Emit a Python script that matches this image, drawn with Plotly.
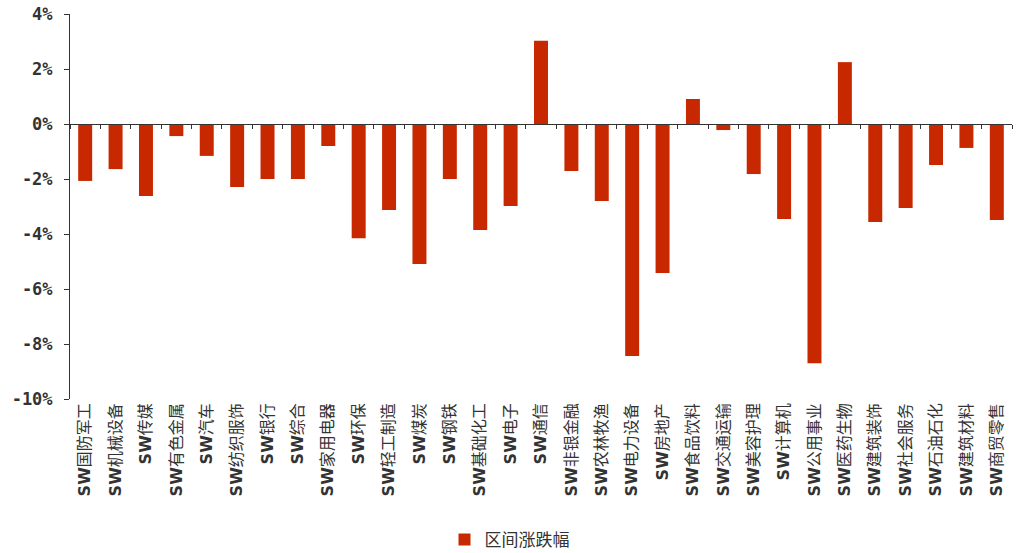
import plotly.graph_objects as go

categories = ["国防军工", "机械设备", "传媒", "有色金属", "汽车", "纺织服饰", "银行", "综合",
              "家用电器", "环保", "轻工制造", "煤炭", "钢铁", "基础化工", "电子", "通信",
              "非银金融", "农林牧渔", "电力设备", "房地产", "食品饮料", "交通运输", "美容护理",
              "计算机", "公用事业", "医药生物", "建筑装饰", "社会服务", "石油石化", "建筑材料", "商贸零售"]
values = [-2.07, -1.64, -2.62, -0.44, -1.16, -2.29, -2.0, -2.0,
          -0.80, -4.15, -3.13, -5.09, -2.0, -3.85, -2.98, 3.03,
          -1.71, -2.80, -8.44, -5.42, 0.91, -0.22, -1.82,
          -3.45, -8.70, 2.25, -3.56, -3.05, -1.49, -0.87, -3.49]
series_name = "区间涨跌幅"
y_ticks = [4, 2, 0, -2, -4, -6, -8, -10]
y_tick_labels = ["4%", "2%", "0%", "-2%", "-4%", "-6%", "-8%", "-10%"]

labels = ["SW" + c for c in categories]
ticktext = ["<b>SW</b>" + c for c in categories]

y_min, y_max = -10, 4
zero_pos = (0 - y_min) / (y_max - y_min)
x_range = [-0.5, len(labels) - 0.5]

fig = go.Figure()
fig.add_trace(go.Bar(
    x=labels, y=values, name=series_name,
    marker=dict(color="#C82800", line=dict(width=0)),
    width=0.46,
))
# invisible helper trace so the zero-line axis is rendered
fig.add_trace(go.Bar(x=labels, y=[0] * len(labels), xaxis="x2", width=0.46,
                     marker=dict(opacity=0), showlegend=False, hoverinfo="skip"))

fig.update_layout(
    width=1019, height=553,
    margin=dict(l=70, r=7, t=14, b=154),
    plot_bgcolor="white", paper_bgcolor="white",
    showlegend=True,
    legend=dict(orientation="h", x=0.5, xanchor="center", xref="container",
                y=1 - 540 / 553, yanchor="middle", yref="container",
                font=dict(family="Noto Sans CJK SC", size=17, color="#333333")),
    xaxis=dict(
        type="category", categoryorder="array", categoryarray=labels, range=x_range,
        tickmode="array", tickvals=labels, ticktext=ticktext, automargin=False,
        tickangle=-90, showline=False, ticks="", showgrid=False,
        tickfont=dict(family="DejaVu Sans, Noto Sans CJK SC", size=16, color="#333333"),
    ),
    xaxis2=dict(
        overlaying="x", anchor="free", position=zero_pos, side="bottom", range=x_range,
        showline=True, linecolor="#333333", linewidth=1, automargin=False,
        ticks="outside", ticklen=4, tickcolor="#333333", tickson="boundaries",
        showticklabels=False, showgrid=False,
        type="category", categoryarray=labels, categoryorder="array",
    ),
    yaxis=dict(
        range=[y_min, y_max], tickmode="array", tickvals=y_ticks, ticktext=y_tick_labels,
        showline=True, linecolor="#333333", linewidth=1, automargin=False,
        ticks="outside", ticklen=5, tickcolor="#333333", ticklabelstandoff=8,
        showgrid=False, zeroline=False,
        tickfont=dict(family="DejaVu Sans Mono", size=17, color="#333333", weight="bold"),
    ),
)

fig.write_html("out.html", config={"displayModeBar": False},
               post_script="document.body.style.margin='0';")
